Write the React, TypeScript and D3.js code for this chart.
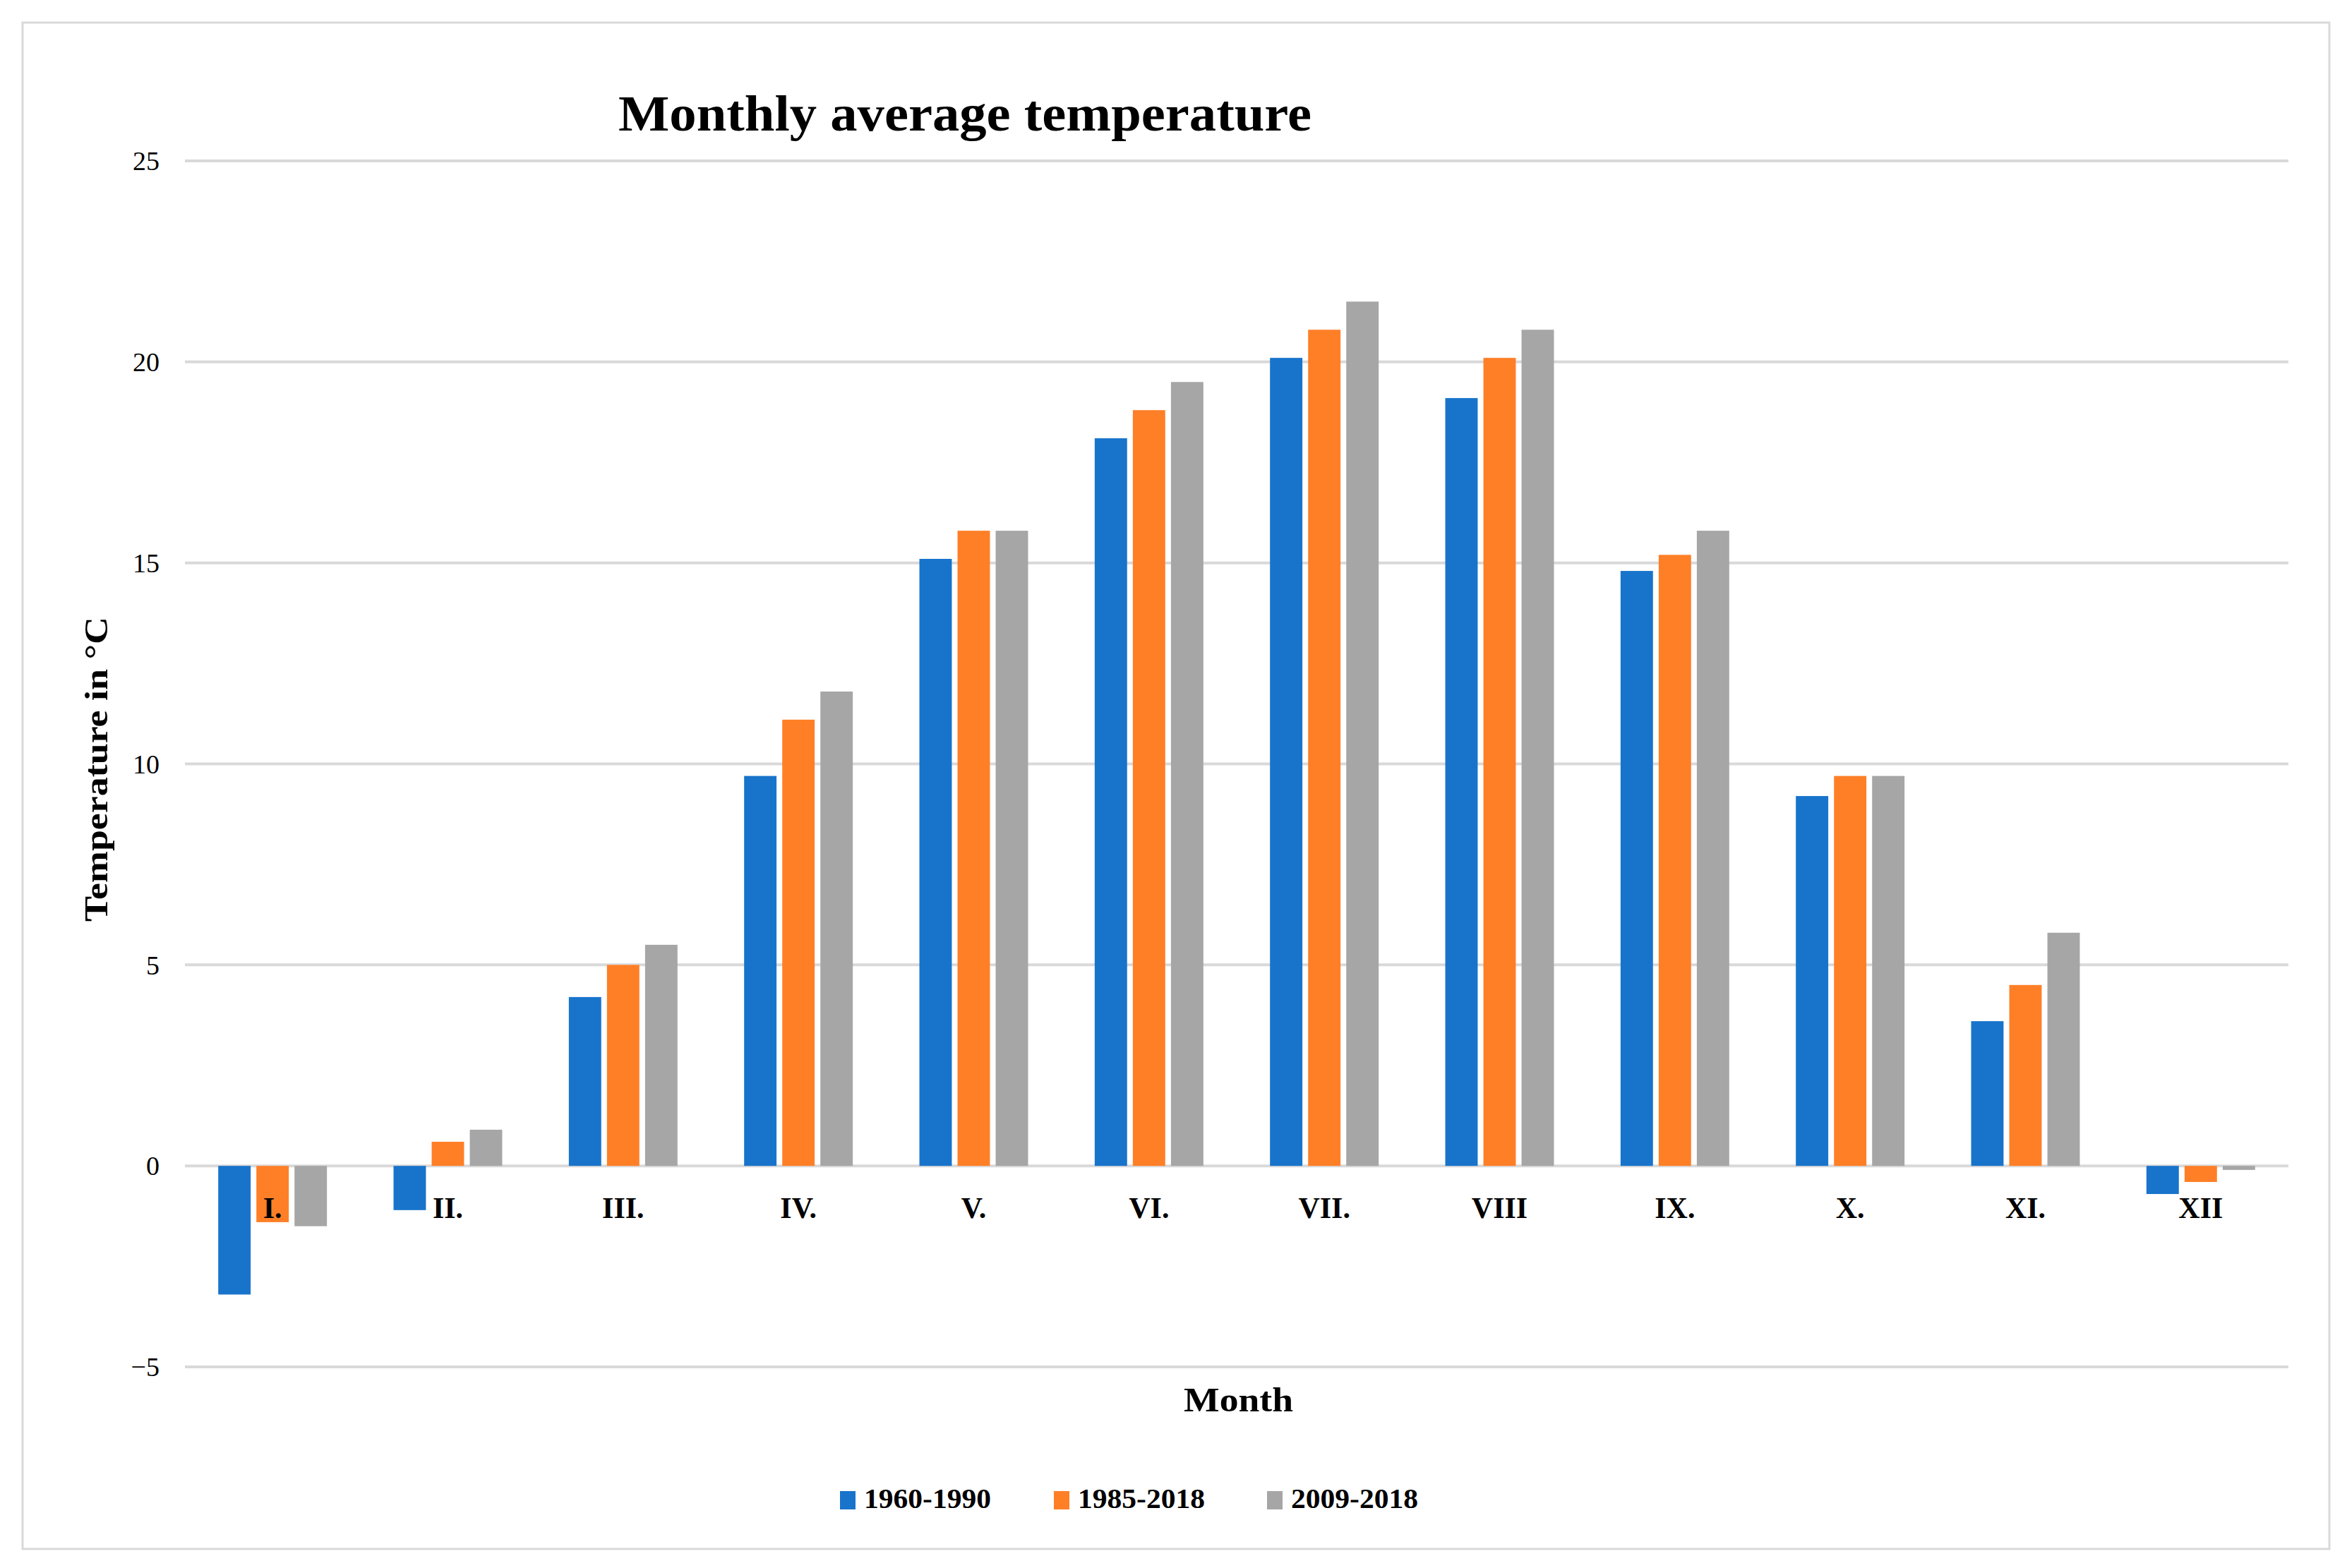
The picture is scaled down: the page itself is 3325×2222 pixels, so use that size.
import React from "react";
import * as d3 from "d3";

const months = ["I.", "II.", "III.", "IV.", "V.", "VI.", "VII.", "VIII", "IX.", "X.", "XI.", "XII"];
const seriesNames = ["1960-1990", "1985-2018", "2009-2018"];
const seriesColors = ["#1874CB", "#FF7F27", "#A6A6A6"];

const temps1960 = [-3.2, -1.1, 4.2, 9.7, 15.1, 18.1, 20.1, 19.1, 14.8, 9.2, 3.6, -0.7];
const temps1985 = [-1.4, 0.6, 5.0, 11.1, 15.8, 18.8, 20.8, 20.1, 15.2, 9.7, 4.5, -0.4];
const temps2009 = [-1.5, 0.9, 5.5, 11.8, 15.8, 19.5, 21.5, 20.8, 15.8, 9.7, 5.8, -0.1];

const yTicks = [-5, 0, 5, 10, 15, 20, 25];

const W = 3325;
const H = 2222;
const margin = { top: 228, right: 83, bottom: 285, left: 262 };
const font = "'Liberation Serif', 'DejaVu Serif', serif";

export default function App() {
  const seriesValues = [temps1960, temps1985, temps2009];

  // outer scale: months
  const x0 = d3.scaleBand<string>()
    .domain(months)
    .range([margin.left, W - margin.right])
    .paddingInner(0.38)
    .paddingOuter(0.19);

  // inner scale: series within a month
  const x1 = d3.scaleBand<string>()
    .domain(seriesNames)
    .range([0, x0.bandwidth()])
    .paddingInner(0.15);

  const y = d3.scaleLinear()
    .domain([-5, 25])
    .range([H - margin.bottom, margin.top]);

  const legendX = [1190, 1493, 1795];

  return (
    <div style={{ position: "absolute", left: 0, top: 0 }}>
      <svg width={W} height={H} style={{ display: "block", background: "#fff" }} fontFamily={font}>
        <rect x={32} y={32} width={3268} height={2163} fill="#fff" stroke="#D9D9D9" strokeWidth={3} />

        <text x={876} y={185} fontSize={72} fontWeight="bold" fill="#000"
          textLength={982} lengthAdjust="spacingAndGlyphs">
          Monthly average temperature
        </text>

        {/* gridlines + y ticks */}
        {yTicks.map(t => (
          <g key={t}>
            <line x1={margin.left} x2={W - margin.right} y1={y(t)} y2={y(t)} stroke="#D9D9D9" strokeWidth={4} />
            <text x={226} y={y(t)} dy="0.35em" textAnchor="end" fontSize={38} fill="#000">
              {t < 0 ? "\u2212" + Math.abs(t) : t}
            </text>
          </g>
        ))}

        {/* bars */}
        {months.map((m, i) => (
          <g key={m} transform={`translate(${x0(m)},0)`}>
            {seriesNames.map((s, j) => {
              const v = seriesValues[j][i];
              return (
                <rect
                  key={s}
                  x={x1(s)}
                  y={y(Math.max(0, v))}
                  width={x1.bandwidth()}
                  height={Math.abs(y(v) - y(0))}
                  fill={seriesColors[j]}
                />
              );
            })}
          </g>
        ))}

        {/* month labels */}
        {months.map(m => (
          <text key={m} x={(x0(m) || 0) + x0.bandwidth() / 2} y={1726} textAnchor="middle"
            fontSize={42} fontWeight="bold" fill="#000">
            {m}
          </text>
        ))}

        <text transform={`translate(152,${1306}) rotate(-90)`} fontSize={46} fontWeight="bold" fill="#000"
          textLength={432} lengthAdjust="spacingAndGlyphs">
          Temperature in  °C
        </text>

        <text x={1677} y={2000} fontSize={48} fontWeight="bold" fill="#000"
          textLength={155} lengthAdjust="spacingAndGlyphs">
          Month
        </text>

        {/* legend */}
        {seriesNames.map((s, j) => (
          <g key={s} transform={`translate(${legendX[j]},2113)`}>
            <rect x={0} y={0} width={22} height={26} fill={seriesColors[j]} />
            <text x={34} y={24} fontSize={40} fontWeight="bold" fill="#000"
              textLength={180} lengthAdjust="spacingAndGlyphs">{s}</text>
          </g>
        ))}
      </svg>
    </div>
  );
}
